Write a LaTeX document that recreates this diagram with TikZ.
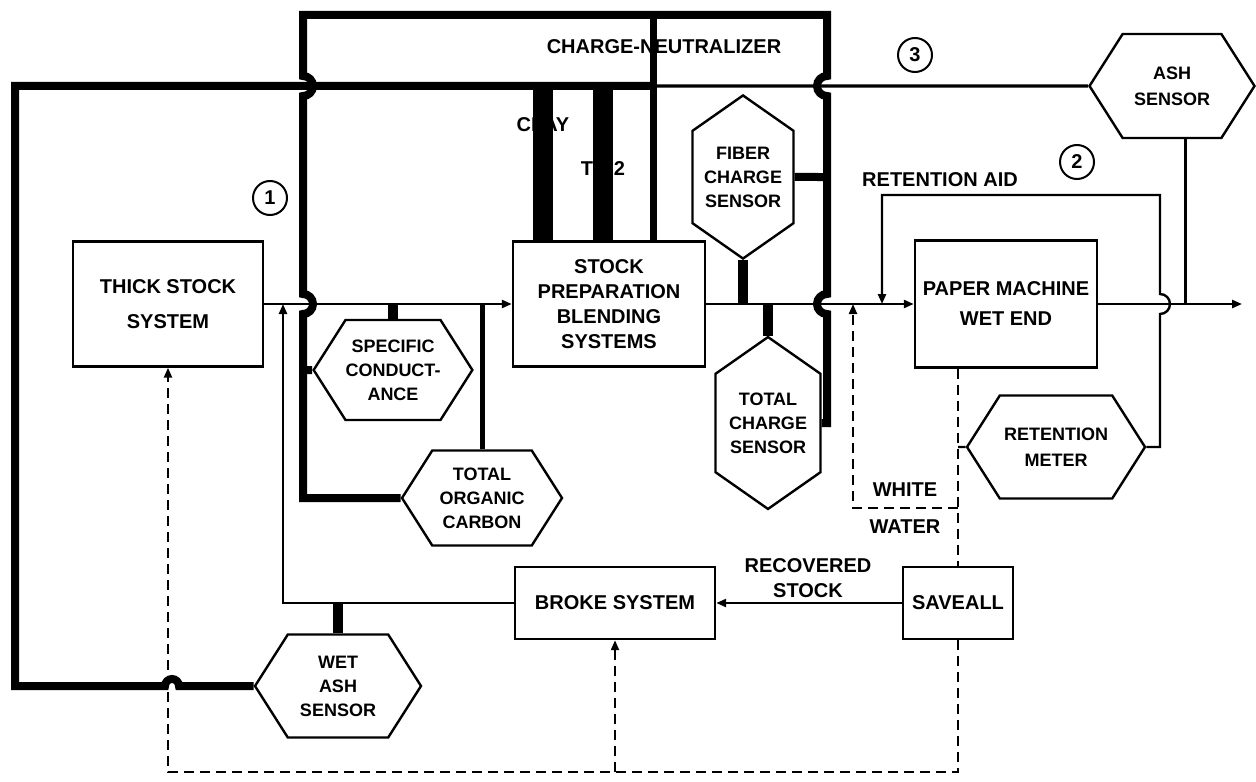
\documentclass[tikz,border=0pt]{standalone}
\usepackage{fontspec}
\setmainfont{Liberation Sans}
\usetikzlibrary{shapes.symbols,arrows.meta}
\begin{document}
\begin{tikzpicture}[x=.5pt,y=-.5pt,
 lbl/.style={font=\bfseries\fontsize{10}{12.5}\selectfont,align=center,inner sep=0},
 box/.style={lbl,draw,line width=1.2pt},
 hexh/.style={lbl,font=\bfseries\fontsize{9}{12}\selectfont,draw,line width=1.2pt,signal,signal to=east and west,signal from=nowhere,signal pointer angle=115},
 hexv/.style={hexh,signal to=north and south,signal pointer angle=110},
 num/.style={draw,circle,line width=1pt,minimum size=17pt,inner sep=0,font=\bfseries\fontsize{10}{12}\selectfont},
 flow/.style={line width=1.2pt},
 sig/.style={line width=4pt},
 bar/.style={line width=10pt},
 wet/.style={line width=1.1pt,dash pattern=on 5pt off 3pt},
 arr/.style={-{Triangle[length=5pt,width=4pt]}}]
 \useasboundingbox (0,0) rectangle (1256,781);
 \node[box,minimum width=95pt,minimum height=62.5pt] (thick) at (168,304) {THICK STOCK\\[5pt]SYSTEM};
 \node[box,minimum width=96pt,minimum height=62.5pt] (prep) at (609,304) {STOCK\\PREPARATION\\BLENDING\\SYSTEMS};
 \node[box,minimum width=91pt,minimum height=63.5pt] (pm) at (1006,304) {PAPER MACHINE\\[2.5pt]WET END};
 \node[box,minimum width=100pt,minimum height=36pt] (broke) at (615,603) {BROKE SYSTEM};
 \node[box,minimum width=55pt,minimum height=36pt] (saveall) at (958,603) {SAVEALL};
 \node[hexh,minimum width=78.5pt,minimum height=50pt] (spc) at (393,370) {SPECIFIC\\CONDUCT-\\ANCE};
 \node[hexh,minimum width=80pt,minimum height=47.5pt] (toc) at (482,498) {TOTAL\\ORGANIC\\CARBON};
 \node[hexv,minimum width=50.5pt,minimum height=73.5pt] (fcs) at (743,177) {FIBER\\CHARGE\\SENSOR};
 \node[hexv,minimum width=52.5pt,minimum height=76.5pt] (tcs) at (768,423) {TOTAL\\CHARGE\\SENSOR};
 \node[hexh,minimum width=89pt,minimum height=51.5pt] (rm) at (1056,447) {RETENTION\\[1pt]METER};
 \node[hexh,minimum width=82.5pt,minimum height=52pt] (ash) at (1172,86) {ASH\\[1pt]SENSOR};
 \node[hexh,minimum width=83pt,minimum height=51.5pt] (wash) at (338,686) {WET\\ASH\\SENSOR};
 \coordinate (out) at (1242,304); \coordinate (bj) at (283,304); \coordinate (wj) at (853,304);
 \coordinate (rj) at (882,304); \coordinate (ww) at (958,508); \coordinate (bot) at (958,772);
 \coordinate (cnf) at (653,15); \coordinate (cl) at (543,86); \coordinate (ti) at (603,86);
 \coordinate (aj) at (1185,138);
 \draw[flow,arr] (thick) -- (prep);
 \draw[flow,arr] (prep) -- (pm);
 \draw[flow,arr] (pm) -- (out);
 \draw[flow,arr] (broke) -| (bj);
 \draw[flow,arr] (saveall) -- (broke);
 \draw[wet] (pm.south -| saveall) -- (saveall);
 \draw[wet,arr] (ww) -| (wj);
 \draw[wet,arr] (saveall) -- (bot) -| (thick);
 \draw[wet,arr] (broke |- bot) -- (broke);
 \draw[sig] (wash) -- (179,686) arc[start angle=0,end angle=-180,radius=7] -- (15,686) -- (15,86) -- (cnf |- cl);
 \draw[line width=1.6pt] (ash) -- (cnf |- cl);
 \draw[sig] (toc) -- (303,498) -- (303,314) arc[start angle=90,end angle=-90,radius=10] -- (303,96) arc[start angle=90,end angle=-90,radius=10] -- (303,15) -- (827,15) -- (827,76) arc[start angle=-90,end angle=-270,radius=10] -- (827,294) arc[start angle=-90,end angle=-270,radius=10] -- (827,423) -- (tcs);
 \draw[sig] (spc) -- (303,370);
 \draw[sig] (fcs) -- (827,177);
 \draw[line width=5pt] (fcs.south) -- (fcs.south |- prep);
 \draw[line width=5pt] (tcs.north) -- (tcs.north |- prep);
 \draw[line width=5pt] (spc.north) -- (spc.north |- prep);
 \draw[line width=2.5pt] (toc.north) -- (toc.north |- prep);
 \draw[line width=5pt] (wash.north) -- (wash.north |- broke);
 \draw[line width=3.5pt] (cnf) -- (cnf |- prep.north);
 \draw[bar] (cl) -- (cl |- prep.north);
 \draw[bar] (ti) -- (ti |- prep.north);
 \draw[flow,arr] (rm) -- (1160,447) -- (1160,314) arc[start angle=90,end angle=-90,radius=10] -- (1160,195) -- (882,195) -- (rj);
 \draw[flow] (rm) -- (rm.west -| saveall);
 \draw[line width=1.5pt] (aj) -- (aj |- out);
 \node[lbl] (cnl) at (664,47) {CHARGE-NEUTRALIZER};
 \node[lbl] (clay) at (543,125) {CLAY};
 \node[lbl] (tio) at (603,168) {TiO2};
 \node[lbl] (ra) at (940,180) {RETENTION AID};
 \node[lbl] (wh) at (905,490) {WHITE};
 \node[lbl] (wa) at (905,527) {WATER};
 \node[lbl] (rs) at (808,578) {RECOVERED\\STOCK};
 \node[num] (c1) at (270,198) {1};
 \node[num] (c2) at (1077,162) {2};
 \node[num] (c3) at (915,55) {3};
\end{tikzpicture}
\end{document}
